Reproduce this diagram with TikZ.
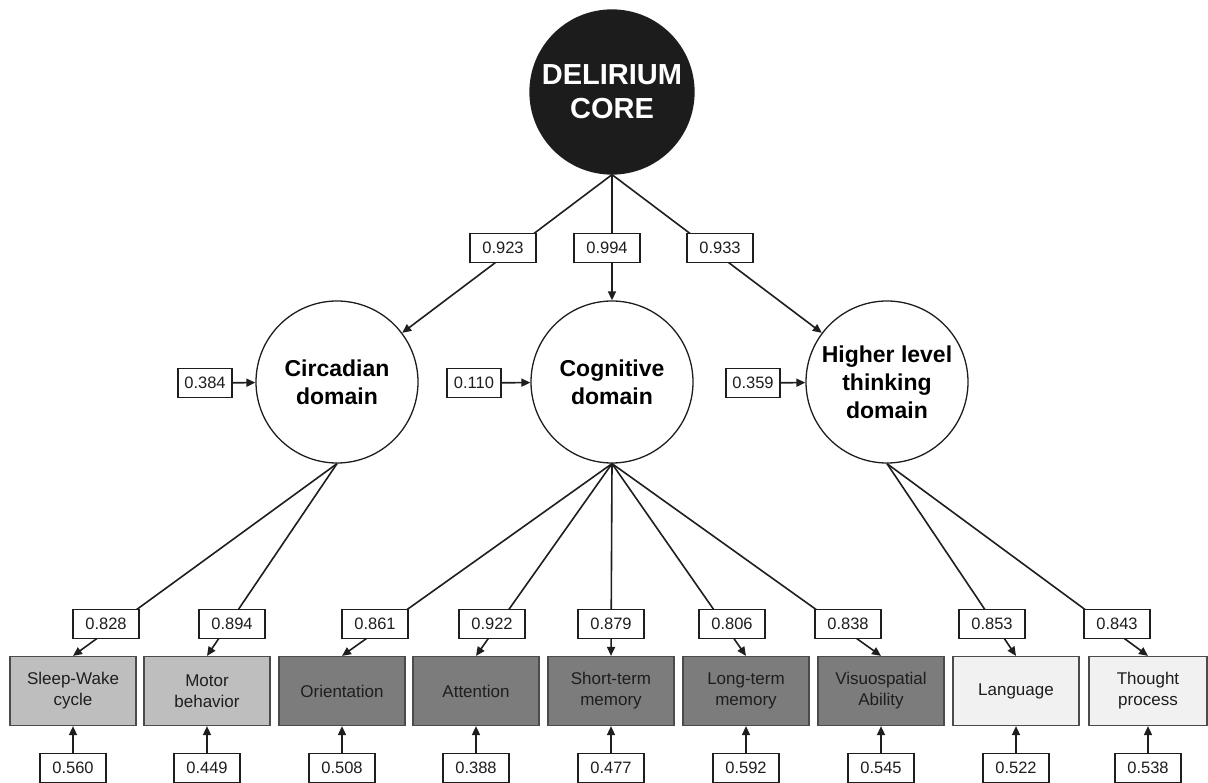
\documentclass[tikz,border=0pt]{standalone}
\usepackage{fontspec}
\setmainfont{Liberation Sans}
\usetikzlibrary{arrows.meta, positioning}

\definecolor{ink}{HTML}{1E1E1E}
\definecolor{corefill}{HTML}{1C1C1C}
\definecolor{circfill}{HTML}{BEBEBE}
\definecolor{cogfill}{HTML}{7C7C7C}
\definecolor{highfill}{HTML}{F1F1F1}

\tikzset{
  latent/.style={circle, draw=ink, line width=1.3pt, fill=white, minimum size=162pt, inner sep=0pt, align=center, font=\bfseries\fontsize{23}{28}\selectfont},
  coef/.style={rectangle, draw=ink, line width=1.2pt, fill=white, minimum width=66pt, minimum height=29pt, inner sep=0pt, font=\fontsize{16.5}{18}\selectfont, text=ink},
  indic/.style={rectangle, draw=ink!80, line width=1.2pt, minimum width=126pt, minimum height=69pt, inner sep=0pt, align=center, font=\fontsize{17}{21}\selectfont, text=ink},
  path/.style={draw=ink, line width=1.6pt, -{Triangle[length=9pt,width=8pt]}}
}

\begin{document}
\begin{tikzpicture}[x=1pt,y=-1pt]

\useasboundingbox (0,0) rectangle (1208,783);

% latent variables
\node (core) at (612,92) [latent, fill=corefill, minimum size=164pt, text=white, font=\bfseries\fontsize{29}{34}\selectfont] {DELIRIUM\\CORE};
\node (circ) at (337,382) [latent] {Circadian\\domain};
\node (cog) at (612,382) [latent] {Cognitive\\domain};
\node (high) at (887,382) [latent] {Higher level\\thinking\\domain};

% observed variables
\node (sw) at (73,691) [indic, fill=circfill] {Sleep-Wake\\cycle};
\node (mot) at (207,691) [indic, fill=circfill] {Motor\\behavior};
\node (ori) at (342,691) [indic, fill=cogfill] {Orientation};
\node (att) at (476,691) [indic, fill=cogfill] {Attention};
\node (stm) at (611,691) [indic, fill=cogfill] {Short-term\\memory};
\node (ltm) at (746,691) [indic, fill=cogfill] {Long-term\\memory};
\node (vis) at (881,691) [indic, fill=cogfill] {Visuospatial\\Ability};
\node (lang) at (1016,691) [indic, fill=highfill] {Language};
\node (thot) at (1148,691) [indic, fill=highfill, minimum width=118pt] {Thought\\process};

% structural paths
\draw [path] (core.south) -- (circ);
\draw [path] (core.south) -- (cog);
\draw [path] (core.south) -- (high);

% loadings
\draw [path] (circ.south) -- (sw.north);
\draw [path] (circ.south) -- (mot.north);
\draw [path] (cog.south) -- (ori.north);
\draw [path] (cog.south) -- (att.north);
\draw [path] (cog.south) -- (stm.north);
\draw [path] (cog.south) -- (ltm.north);
\draw [path] (cog.south) -- (vis.north);
\draw [path] (high.south) -- (lang.north);
\draw [path] (high.south) -- (thot.north);

% coefficients on the paths
\node (w1) at (503,248) [coef] {0.923};
\node (w2) at (607,248) [coef] {0.994};
\node (w3) at (720,248) [coef] {0.933};

\node (l1) at (106,624) [coef] {0.828};
\node (l2) at (232,624) [coef] {0.894};
\node (l3) at (375,624) [coef] {0.861};
\node (l4) at (492,624) [coef] {0.922};
\node (l5) at (611,624) [coef] {0.879};
\node (l6) at (732,624) [coef] {0.806};
\node (l7) at (848,624) [coef] {0.838};
\node (l8) at (992,624) [coef] {0.853};
\node (l9) at (1117,624) [coef] {0.843};

% disturbances
\node (d1) at (205,383) [coef, minimum width=54pt] {0.384};
\node (d2) at (474,383) [coef, minimum width=54pt] {0.110};
\node (d3) at (753,383) [coef, minimum width=54pt] {0.359};
\draw [path] (d1) -- (circ);
\draw [path] (d2) -- (cog);
\draw [path] (d3) -- (high);

% errors
\node (e1) [coef, below=27pt of sw] {0.560};
\node (e2) [coef, below=27pt of mot] {0.449};
\node (e3) [coef, below=27pt of ori] {0.508};
\node (e4) [coef, below=27pt of att] {0.388};
\node (e5) [coef, below=27pt of stm] {0.477};
\node (e6) [coef, below=27pt of ltm] {0.592};
\node (e7) [coef, below=27pt of vis] {0.545};
\node (e8) [coef, below=27pt of lang] {0.522};
\node (e9) [coef, below=27pt of thot] {0.538};
\draw [path] (e1) -- (sw);
\draw [path] (e2) -- (mot);
\draw [path] (e3) -- (ori);
\draw [path] (e4) -- (att);
\draw [path] (e5) -- (stm);
\draw [path] (e6) -- (ltm);
\draw [path] (e7) -- (vis);
\draw [path] (e8) -- (lang);
\draw [path] (e9) -- (thot);

\end{tikzpicture}
\end{document}
